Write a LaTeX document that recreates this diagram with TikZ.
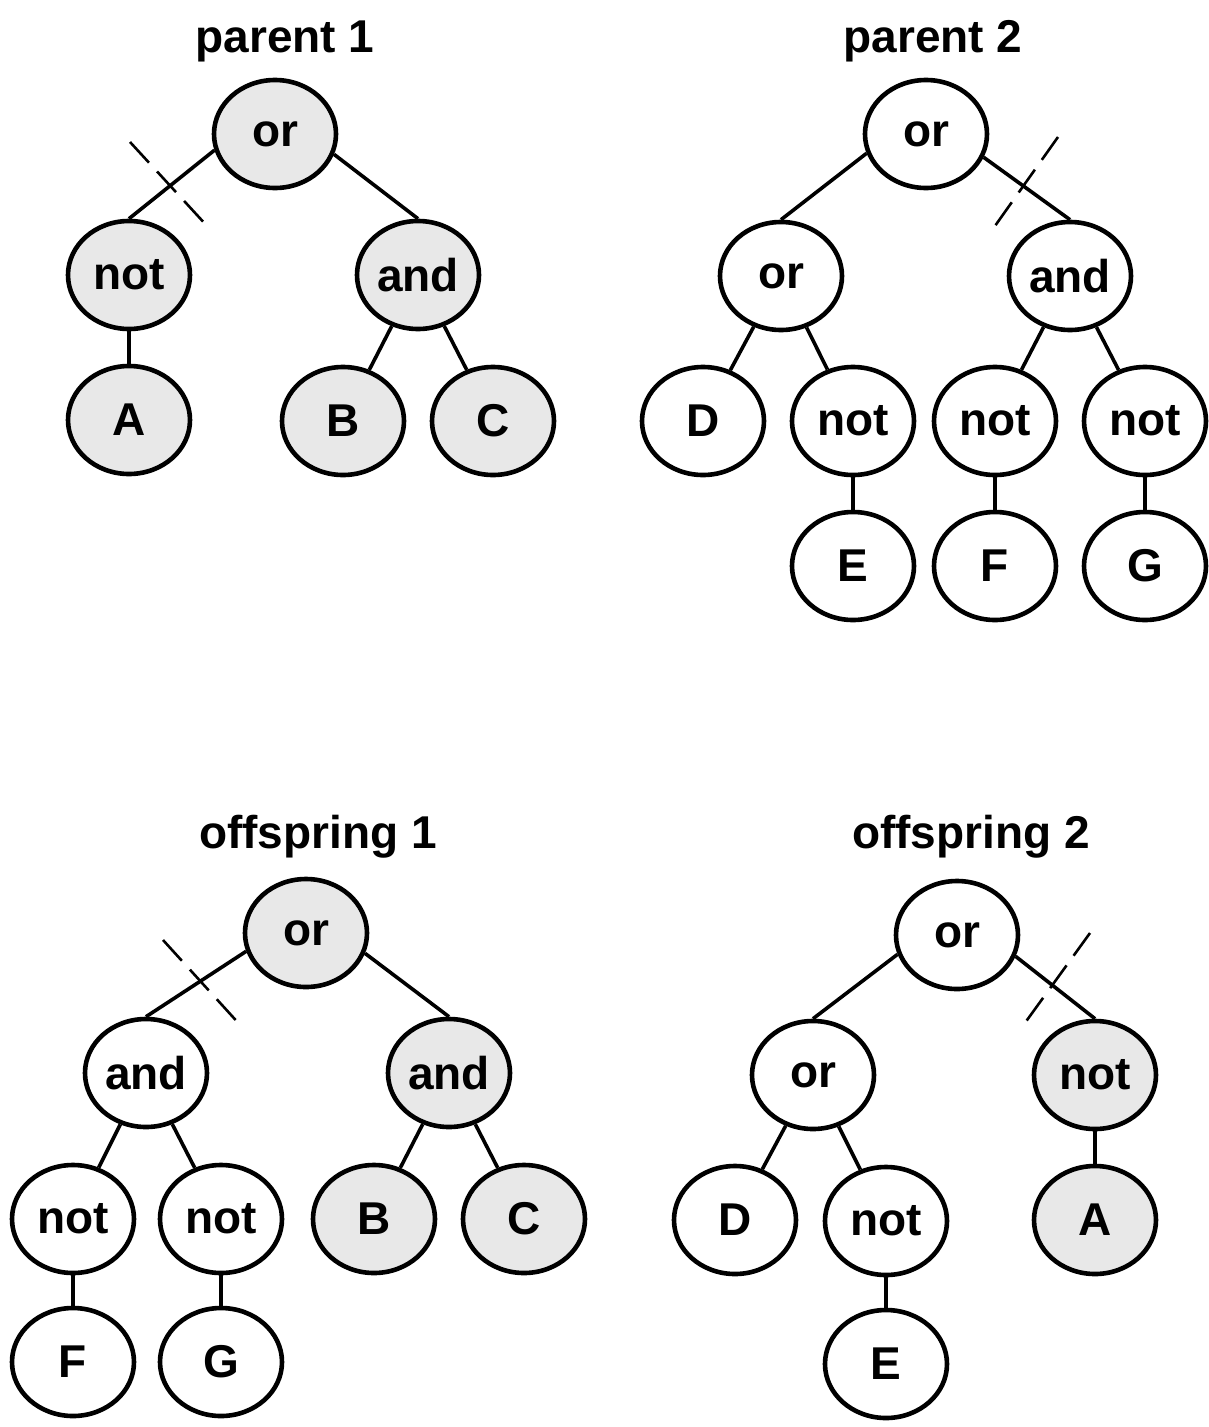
\documentclass[tikz,border=0pt]{standalone}
\usepackage{fontspec}
\setmainfont{Liberation Sans}
\usetikzlibrary{shapes.geometric}
\begin{document}
\begin{tikzpicture}[x=1pt,y=-1pt,
  gene/.style={ellipse,draw,line width=4.6pt,minimum width=122pt,minimum height=108pt,
    inner sep=0pt,font=\fontsize{46}{52}\selectfont\bfseries,fill=white},
  inherited/.style={gene,fill=gray!18},
  title/.style={anchor=base,font=\fontsize{46}{52}\selectfont\bfseries},
  branch/.style={line width=3.6pt},
  stem/.style={line width=4.6pt},
  cut/.style={line width=2.6pt,dash pattern=on 28pt off 12pt}]
\useasboundingbox (0,0) rectangle (1209,1427);

% ---------- parent 1 ----------
\node[title] (t1) at (285,52) {parent 1};
\node[inherited] (p1or)  at (275,134) {or};
\node[inherited] (p1not) at (129,275) {not};
\node[inherited] (p1and) at (418,275) {and};
\node[inherited] (p1A)   at (129,420) {A};
\node[inherited] (p1B)   at (343,421) {B};
\node[inherited] (p1C)   at (493,421) {C};
\draw[branch] (p1or.195) -- (p1not.north);
\draw[branch] (p1or.-19) -- (p1and.north);
\draw[stem]   (p1not) -- (p1A);
\draw[branch] (p1and) -- (p1B);
\draw[branch] (p1and) -- (p1C);
\draw[cut] (130,142) -- (208,227);

% ---------- parent 2 ----------
\node[title] (t2) at (933,52) {parent 2};
\node[gene] (p2or)   at (926,134)  {or};
\node[gene] (p2or2)  at (781,276)  {or};
\node[gene] (p2and)  at (1070,276) {and};
\node[gene] (p2D)    at (703,421)  {D};
\node[gene] (p2notE) at (853,421)  {not};
\node[gene] (p2notF) at (995,421)  {not};
\node[gene] (p2notG) at (1145,421) {not};
\node[gene] (p2E)    at (853,566)  {E};
\node[gene] (p2F)    at (995,566)  {F};
\node[gene] (p2G)    at (1145,566) {G};
\draw[branch] (p2or.198) -- (p2or2.north);
\draw[branch] (p2or.-22) -- (p2and.north);
\draw[branch] (p2or2) -- (p2D);
\draw[branch] (p2or2) -- (p2notE);
\draw[branch] (p2and) -- (p2notF);
\draw[branch] (p2and) -- (p2notG);
\draw[stem] (p2notE) -- (p2E);
\draw[stem] (p2notF) -- (p2F);
\draw[stem] (p2notG) -- (p2G);
\draw[cut] (1058,137) -- (990,233);

% ---------- offspring 1 ----------
\node[title] (t3) at (318,848) {offspring 1};
\node[inherited] (o1or)   at (306,933)  {or};
\node[gene]      (o1and)  at (146,1073) {and};
\node[inherited] (o1and2) at (449,1073) {and};
\node[gene]      (o1notF) at (73,1219)  {not};
\node[gene]      (o1notG) at (221,1219) {not};
\node[inherited] (o1B)    at (374,1219) {B};
\node[inherited] (o1C)    at (524,1219) {C};
\node[gene]      (o1F)    at (73,1362)  {F};
\node[gene]      (o1G)    at (221,1362) {G};
\draw[branch] (o1or.197) -- (o1and.north);
\draw[branch] (o1or.-19) -- (o1and2.north);
\draw[branch] (o1and) -- (o1notF);
\draw[branch] (o1and) -- (o1notG);
\draw[branch] (o1and2) -- (o1B);
\draw[branch] (o1and2) -- (o1C);
\draw[stem] (o1notF) -- (o1F);
\draw[stem] (o1notG) -- (o1G);
\draw[cut] (163,940) -- (242,1027);

% ---------- offspring 2 ----------
\node[title] (t4) at (971,848) {offspring 2};
\node[gene]      (o2or)   at (957,935)  {or};
\node[gene]      (o2or2)  at (813,1075) {or};
\node[inherited] (o2not)  at (1095,1075) {not};
\node[gene]      (o2D)    at (735,1220) {D};
\node[gene]      (o2notE) at (886,1221) {not};
\node[inherited] (o2A)    at (1095,1220) {A};
\node[gene]      (o2E)    at (886,1364) {E};
\draw[branch] (o2or.198) -- (o2or2.north);
\draw[branch] (o2or.-20) -- (o2not.north);
\draw[branch] (o2or2) -- (o2D);
\draw[branch] (o2or2) -- (o2notE);
\draw[stem] (o2not) -- (o2A);
\draw[stem] (o2notE) -- (o2E);
\draw[cut] (1090,933) -- (1022,1027);
\end{tikzpicture}
\end{document}
